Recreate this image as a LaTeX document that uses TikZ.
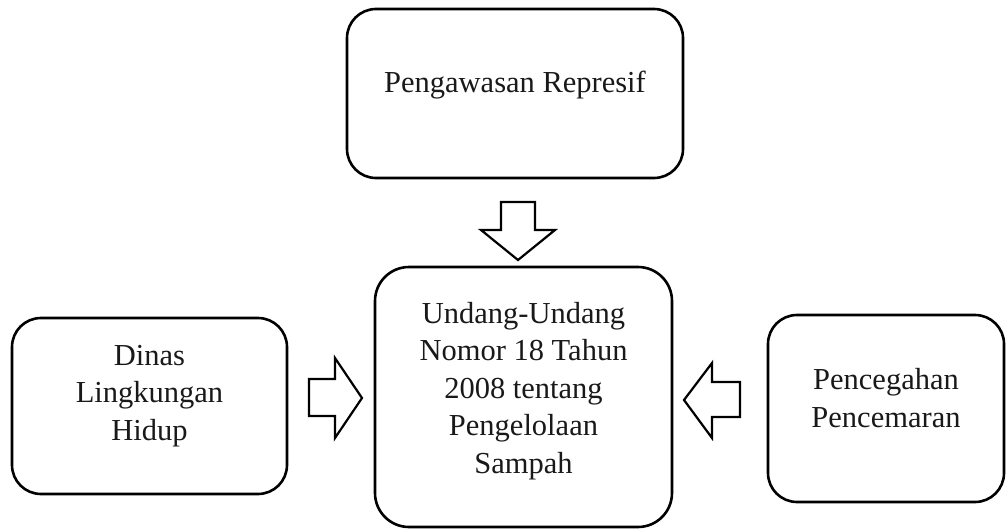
\documentclass[tikz,border=0pt]{standalone}
\usepackage{fontspec}
\setmainfont{Liberation Serif}
\begin{document}
\begin{tikzpicture}[x=1pt,y=-1pt,
  box/.style={draw, line width=2.6pt, rounded corners=29pt, inner sep=0pt},
  txt/.style={align=center, font=\fontsize{30.5}{37.5}\selectfont, text=black!90, inner sep=0pt},
  blockarrow/.style={draw, line width=2.2pt, fill=white, miter limit=10}]
\useasboundingbox (0,0) rectangle (1006,530);
% boxes
\node[box, minimum width=336pt, minimum height=169pt] (top) at (515,93.5) {};
\node[box, minimum width=275pt, minimum height=176pt] (left) at (149.5,406) {};
\node[box, rounded corners=34pt, minimum width=297pt, minimum height=260pt] (mid) at (523.5,397) {};
\node[box, minimum width=236pt, minimum height=187pt] (right) at (886,408.5) {};
% texts
\node[txt] (toptxt) at (515,85) {Pengawasan Represif};
\node[txt] (lefttxt) at (149.5,396) {Dinas\\Lingkungan\\Hidup};
\node[txt] (midtxt) at (523.5,391) {Undang-Undang\\Nomor 18 Tahun\\2008 tentang\\Pengelolaan\\Sampah};
\node[txt] (righttxt) at (886,398) {Pencegahan\\Pencemaran};
% block arrows
\draw[blockarrow] (501,202) -- (535,202) -- (535,230) -- (555,230) -- (518,260) -- (481,230) -- (501,230) -- cycle;
\draw[blockarrow] (309,379) -- (335,379) -- (335,358) -- (362,398) -- (335,438) -- (335,416) -- (309,416) -- cycle;
\draw[blockarrow] (740,382) -- (712,382) -- (712,363) -- (684,400) -- (712,438) -- (712,417) -- (740,417) -- cycle;
\end{tikzpicture}
\end{document}
